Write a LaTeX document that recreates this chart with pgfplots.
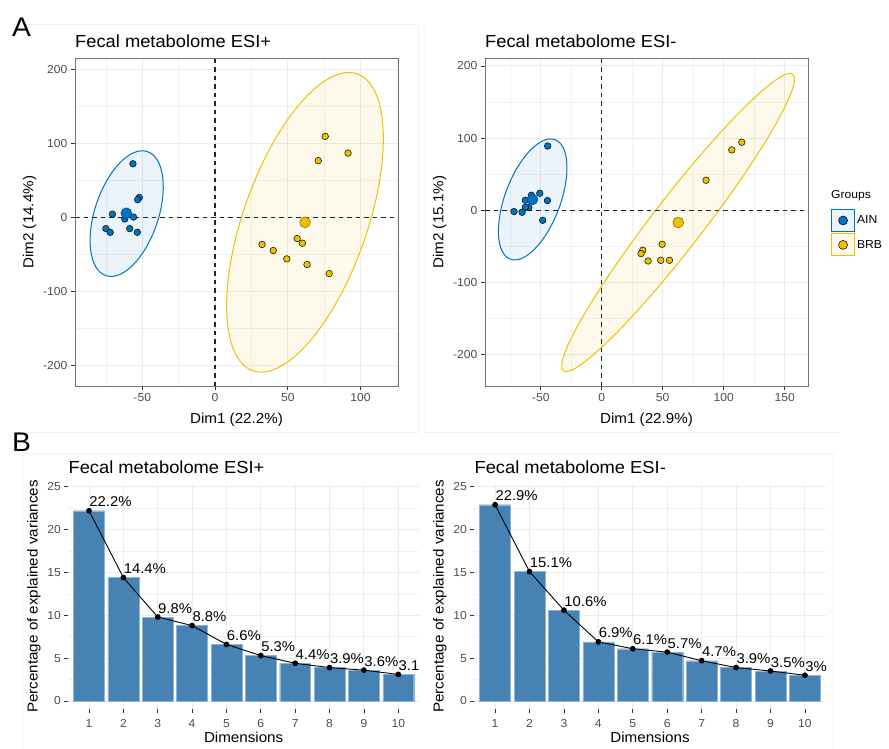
\documentclass[border=0pt]{standalone}
\usepackage{fontspec}
\setmainfont{Liberation Sans}[FakeStretch=1.05]
\usepackage{pgfplots}
\pgfplotsset{compat=1.18}
\definecolor{ainblue}{HTML}{0073C2}
\definecolor{brbyel}{HTML}{EFC000}
\definecolor{steel}{HTML}{4682B4}
\definecolor{tickgray}{HTML}{4D4D4D}
\definecolor{gridgray}{HTML}{EBEBEB}
\definecolor{bordergray}{HTML}{333333}
\newcommand\fs[1]{\fontsize{#1}{#1}\selectfont}
\tikzset{
  zl/.style={black!85, dash pattern=on 4.5bp off 4bp, line width=1.1bp},
  ell/.style={draw=#1, fill=#1, fill opacity=0.08, line width=1bp},
}
\pgfplotsset{
  common/.style={
    scale only axis, anchor=north west,
    /pgf/number format/assume math mode=true,
    tick label style={font=\fs{11.6}, text=tickgray},
    label style={font=\fs{14.5}},
    title style={font=\fs{17.5}, at={(0,1)}, anchor=base west, yshift=4.8bp, inner sep=0pt},
    tick align=outside, tick pos=left,
    major tick length=4bp, minor tick length=0pt,
    tick style={bordergray, line width=0.7bp},
    grid=both,
    major grid style={gridgray, line width=0.9bp},
    minor grid style={gridgray!70, line width=0.5bp},
  },
  pca/.style={common, width=323bp, height=327.5bp,
    axis line style={black!55, line width=0.8bp},
    xtick={-50,0,50,100,150}, ytick={-200,-100,0,100,200},
    minor xtick={-75,-25,25,75,125}, minor ytick={-150,-50,50,150},
    clip mode=individual,
    xlabel style={yshift=-4bp},
  },
  scree/.style={common, height=224.7bp, ymin=-0.9, ymax=25.32, xmin=0.4, xmax=10.6,
    xtick={1,...,10}, ytick={0,5,...,25}, minor ytick={2.5,7.5,...,22.5},
    axis line style={draw=none},
    xticklabel style={yshift=-3bp},
    xlabel style={yshift=-0.5bp, inner sep=1bp},
    xlabel={Dimensions}, ylabel={Percentage of explained variances},
  },
  pts/.style={only marks, mark=*, mark size=3.3bp, mark options={fill=#1, draw=black, line width=0.5bp}, forget plot},
  cen/.style={only marks, mark=*, mark size=5.4bp, mark options={fill=#1, draw=#1!60!black, line width=0.6bp}, forget plot},
  bars/.style={ybar, bar width=0.9, fill=steel, draw=steel!60!white, line width=0.4bp, forget plot},
  sline/.style={black, line width=0.9bp, mark=*, mark size=2.4bp, nodes near coords, point meta=explicit symbolic,
    nodes near coords style={anchor=base west, inner sep=0pt, yshift=4bp, font=\fs{14.2}, text=black}},
}
\begin{document}
\begin{tikzpicture}
\useasboundingbox (0,0) rectangle (889bp,-749bp);
% faint panel frames
\draw[gray!10, line width=0.6bp] (14bp,-24bp) -- (418bp,-24bp) -- (418bp,-432bp) -- (14bp,-432bp);
\draw[gray!10, line width=0.6bp] (425bp,-24bp) -- (425bp,-432bp) -- (840bp,-432bp);
\draw[gray!10, line width=0.6bp] (22bp,-749bp) -- (22bp,-453bp) -- (833bp,-453bp) -- (833bp,-749bp);

\node[anchor=base west, inner sep=0pt, font=\fs{27}] at (12bp,-36.7bp) {A};
\node[anchor=base west, inner sep=0pt, font=\fs{27}] at (12bp,-451bp) {B};

% ---------- A1 ----------
\begin{axis}[pca, at={(75bp,-58.5bp)},
  xmin=-96.2, xmax=125.7, ymin=-227.4, ymax=214.5,
  title={Fecal metabolome ESI+}, xlabel={Dim1 (22.2\%)}, ylabel={Dim2 (14.4\%)}]
\draw[ell=ainblue] (axis cs:-60.7,5.2) circle[x radius=65.4bp, y radius=31.8bp, rotate=71.5];
\draw[ell=brbyel] (axis cs:61.8,-6.5) circle[x radius=157.3bp, y radius=61.9bp, rotate=70.6];
\draw[zl] (axis cs:0,-227.4) -- (axis cs:0,214.5);
\draw[zl] (axis cs:-96.2,0) -- (axis cs:125.7,0);
\addplot[pts=ainblue] coordinates {(-56.4,72.5)(-52,27)(-53.2,24)(-70.5,4.5)(-62,-2)(-56,0.5)(-75,-15)(-72,-20)(-58.6,-15)(-53.4,-20)};
\addplot[cen=ainblue] coordinates {(-60.9,5.7)};
\addplot[pts=brbyel] coordinates {(75.7,109.5)(91.4,86.9)(70.9,76.6)(56.4,-28.4)(60,-34.7)(32.3,-36.5)(40,-44.6)(49.3,-55.9)(63.2,-63.5)(78.4,-75.7)};
\addplot[cen=brbyel] coordinates {(61.8,-6.6)};
\end{axis}

% ---------- A2 ----------
\begin{axis}[pca, at={(485bp,-58.5bp)},
  xmin=-95.7, xmax=169.1, ymin=-243.4, ymax=210.2,
  title={Fecal metabolome ESI-}, xlabel={Dim1 (22.9\%)}, ylabel={Dim2 (15.1\%)},
  legend style={at={(1.071,0.541)}, anchor=north west, draw=none, fill=none, font=\fs{11.6},
    inner sep=0pt, row sep=1.5bp, /tikz/every even column/.append style={column sep=7bp}},
  legend cell align=left]
\draw[ell=ainblue] (axis cs:-56.6,15) circle[x radius=63.8bp, y radius=27.7bp, rotate=69.4];
\draw[ell=brbyel] (axis cs:62.6,-16.9) circle[x radius=187.5bp, y radius=25.2bp, rotate=52.3];
\draw[zl] (axis cs:0,-243.4) -- (axis cs:0,210.2);
\draw[zl] (axis cs:-95.7,0) -- (axis cs:169.1,0);
\addplot[pts=ainblue] coordinates {(-44.3,89)(-50.8,23.6)(-57.7,20.8)(-62.6,13.9)(-44.5,13.4)(-59.8,3.7)(-62.6,4.2)(-71.9,-1.8)(-65.3,-2.8)(-48.4,-13.9)};
\addplot[cen=ainblue] coordinates {(-56.8,15)};
\addplot[pts=brbyel] coordinates {(114.8,94.2)(106.6,83.6)(85.5,41.6)(49.5,-47.1)(33.6,-55.4)(32.2,-60)(38,-70.2)(48.4,-69.3)(55.5,-69.3)};
\addplot[cen=brbyel] coordinates {(62.7,-16.9)};
\addlegendimage{legend image code/.code={
  \draw[ainblue, fill=ainblue!8, line width=0.9bp] (0bp,-11bp) rectangle (23bp,11bp);
  \draw[black, fill=ainblue, line width=0.5bp] (11.5bp,0bp) circle (4.5bp);}}
\addlegendentry{AIN}
\addlegendimage{legend image code/.code={
  \draw[brbyel, fill=brbyel!8, line width=0.9bp] (0bp,-11bp) rectangle (23bp,11bp);
  \draw[black, fill=brbyel, line width=0.5bp] (11.5bp,0bp) circle (4.5bp);}}
\addlegendentry{BRB}
\end{axis}
\node[anchor=west, inner sep=0pt, font=\fs{11.6}] at (831bp,-196bp) {Groups};

% ---------- B1 ----------
\begin{axis}[scree, at={(68.4bp,-484bp)}, width=350.5bp, title={Fecal metabolome ESI+}]
\addplot[bars] coordinates {(1,22.2)(2,14.4)(3,9.8)(4,8.8)(5,6.6)(6,5.3)(7,4.4)(8,3.9)(9,3.6)(10,3.1)};
\addplot[sline] coordinates {(1,22.2)[22.2\%] (2,14.4)[14.4\%] (3,9.8)[9.8\%] (4,8.8)[8.8\%] (5,6.6)[6.6\%] (6,5.3)[5.3\%] (7,4.4)[4.4\%] (8,3.9)[3.9\%] (9,3.6)[3.6\%] (10,3.1)[3.1]};
\end{axis}

% ---------- B2 ----------
\begin{axis}[scree, at={(474.4bp,-484bp)}, width=351.2bp, title={Fecal metabolome ESI-}]
\addplot[bars] coordinates {(1,22.9)(2,15.1)(3,10.6)(4,6.9)(5,6.1)(6,5.7)(7,4.7)(8,3.9)(9,3.5)(10,3.0)};
\addplot[sline] coordinates {(1,22.9)[22.9\%] (2,15.1)[15.1\%] (3,10.6)[10.6\%] (4,6.9)[6.9\%] (5,6.1)[6.1\%] (6,5.7)[5.7\%] (7,4.7)[4.7\%] (8,3.9)[3.9\%] (9,3.5)[3.5\%] (10,3.0)[3\%]};
\end{axis}
\end{tikzpicture}
\end{document}
